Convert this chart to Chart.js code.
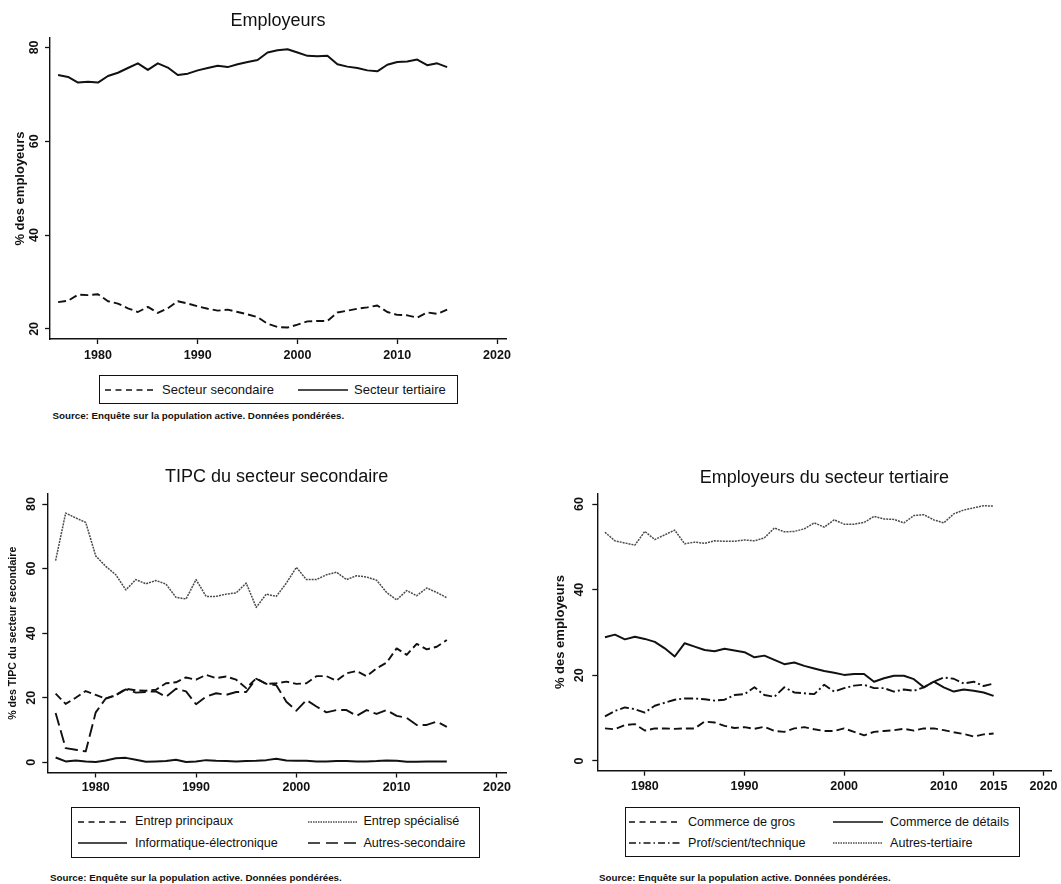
<!DOCTYPE html>
<html lang="fr">
<head>
<meta charset="utf-8">
<title>Employeurs</title>
<script src="https://cdn.jsdelivr.net/npm/chart.js@4.4.1/dist/chart.umd.min.js"></script>
<style>
  html, body { margin: 0; padding: 0; background: #fff; }
  body { width: 1061px; height: 884px; position: relative; overflow: hidden;
         font-family: "Liberation Sans", Arial, sans-serif; color: #111; }
  canvas { position: absolute; }
  .legende { position: absolute; border: 1.5px solid #111; box-sizing: border-box; }
  .echantillon { position: absolute; }
  .texte { position: absolute; white-space: nowrap; line-height: 1; }
  .source { position: absolute; white-space: nowrap; line-height: 1; font-weight: bold; font-size: 9.8px; }
</style>
</head>
<body>
<canvas id="graph1"></canvas>
<canvas id="graph2"></canvas>
<canvas id="graph3"></canvas>

<script>
// Années
const annees = [1976, 1977, 1978, 1979, 1980, 1981, 1982, 1983, 1984, 1985,
                1986, 1987, 1988, 1989, 1990, 1991, 1992, 1993, 1994, 1995,
                1996, 1997, 1998, 1999, 2000, 2001, 2002, 2003, 2004, 2005,
                2006, 2007, 2008, 2009, 2010, 2011, 2012, 2013, 2014, 2015];

// Employeurs
const secteurSecondaire = [25.7, 26.0, 27.3, 27.2, 27.4, 25.9, 25.4, 24.4, 23.6, 24.7,
                           23.4, 24.4, 25.9, 25.4, 24.8, 24.3, 23.9, 24.1, 23.6, 23.1,
                           22.5, 21.1, 20.4, 20.3, 20.9, 21.6, 21.7, 21.7, 23.5, 23.9,
                           24.3, 24.6, 25.0, 23.6, 23.0, 22.9, 22.4, 23.5, 23.2, 24.1];
const secteurTertiaire = [74.1, 73.7, 72.5, 72.7, 72.5, 73.9, 74.6, 75.6, 76.6, 75.2,
                          76.6, 75.7, 74.1, 74.4, 75.1, 75.6, 76.1, 75.8, 76.4, 76.9,
                          77.3, 78.9, 79.4, 79.6, 78.9, 78.2, 78.1, 78.2, 76.4, 75.9,
                          75.6, 75.1, 74.9, 76.3, 76.9, 77.0, 77.4, 76.2, 76.6, 75.8];

// TIPC du secteur secondaire
const entrepPrincipaux = [21.3, 18.1, 20.0, 22.1, 20.9, 19.7, 20.8, 22.8, 22.3, 22.2,
                          22.5, 24.5, 24.8, 26.3, 25.6, 27.1, 26.1, 26.6, 25.6, 23.0,
                          26.0, 24.3, 24.5, 25.0, 24.3, 24.5, 26.7, 26.7, 25.3, 27.6,
                          28.3, 26.7, 29.1, 30.9, 35.3, 33.3, 36.7, 35.0, 35.8, 37.9];
const entrepSpecialise = [62.5, 77.2, 75.7, 74.3, 63.9, 60.7, 58.1, 53.4, 56.6, 55.3,
                          56.3, 55.2, 51.1, 50.6, 56.6, 51.4, 51.4, 52.1, 52.5, 55.5,
                          48.0, 52.1, 51.4, 55.5, 60.4, 56.6, 56.6, 58.1, 58.9, 56.6,
                          57.8, 57.4, 56.4, 52.6, 50.3, 53.2, 51.6, 54.0, 52.6, 51.0];
const informatique = [1.5, 0.3, 0.6, 0.3, 0.1, 0.6, 1.3, 1.4, 0.8, 0.2,
                      0.3, 0.4, 0.8, 0.1, 0.3, 0.7, 0.5, 0.4, 0.3, 0.4,
                      0.5, 0.7, 1.1, 0.6, 0.5, 0.5, 0.3, 0.3, 0.4, 0.4,
                      0.3, 0.3, 0.4, 0.6, 0.5, 0.2, 0.2, 0.3, 0.3, 0.3];
const autresSecondaire = [15.3, 4.4, 3.9, 3.4, 15.5, 19.8, 20.8, 22.6, 21.6, 21.8,
                          22.0, 20.3, 22.8, 22.0, 18.0, 20.4, 21.4, 20.9, 21.8, 21.8,
                          25.9, 24.3, 23.9, 18.8, 16.0, 19.3, 17.3, 15.5, 16.2, 16.2,
                          14.4, 16.2, 15.0, 16.2, 14.4, 13.8, 11.6, 11.6, 12.6, 11.0];

// Employeurs du secteur tertiaire
const commerceGros = [7.6, 7.4, 8.4, 8.6, 7.1, 7.6, 7.6, 7.5, 7.6, 7.6,
                      9.2, 9.0, 8.2, 7.7, 7.9, 7.5, 8.0, 7.0, 6.8, 7.6,
                      7.9, 7.4, 7.0, 7.0, 7.6, 6.8, 6.0, 6.8, 7.0, 7.2,
                      7.5, 7.1, 7.6, 7.6, 7.2, 6.7, 6.3, 5.7, 6.2, 6.4];
const commerceDetails = [28.9, 29.5, 28.4, 29.0, 28.5, 27.8, 26.3, 24.4, 27.5, 26.7,
                         25.9, 25.6, 26.2, 25.8, 25.4, 24.2, 24.6, 23.6, 22.6, 23.0,
                         22.2, 21.6, 21.0, 20.6, 20.1, 20.3, 20.3, 18.5, 19.3, 19.9,
                         19.9, 19.1, 17.2, 18.5, 17.2, 16.2, 16.7, 16.4, 16.0, 15.2];
const profScientTech = [10.4, 11.7, 12.5, 12.1, 11.3, 12.9, 13.6, 14.3, 14.6, 14.6,
                        14.4, 14.1, 14.3, 15.4, 15.6, 17.2, 15.4, 15.0, 17.2, 16.0,
                        15.8, 15.6, 17.8, 16.2, 17.0, 17.6, 17.8, 17.0, 17.0, 16.2,
                        16.7, 16.4, 17.2, 18.5, 19.5, 19.2, 18.1, 18.5, 17.5, 18.1];
const autresTertiaire = [53.4, 51.4, 50.9, 50.4, 53.6, 51.7, 52.8, 53.9, 50.7, 51.1,
                         50.8, 51.4, 51.3, 51.3, 51.6, 51.4, 52.1, 54.4, 53.5, 53.6,
                         54.2, 55.6, 54.6, 56.3, 55.3, 55.3, 55.7, 57.1, 56.5, 56.4,
                         55.6, 57.3, 57.5, 56.3, 55.6, 57.7, 58.6, 59.1, 59.6, 59.5];

// Graduations
const xTicks12 = [1980, 1990, 2000, 2010, 2020];
const xTicks3 = [1980, 1990, 2000, 2010, 2015, 2020];
const yTicks1 = [20, 40, 60, 80];
const yTicks2 = [0, 20, 40, 60, 80];
const yTicks3 = [0, 20, 40, 60];

// Textes
const titres = ['Employeurs', 'TIPC du secteur secondaire', 'Employeurs du secteur tertiaire'];
const titresY = ['% des employeurs', '% des TIPC du secteur secondaire', '% des employeurs'];
const legende1 = ['Secteur secondaire', 'Secteur tertiaire'];
const legende2 = ['Entrep principaux', 'Entrep spécialisé', 'Informatique-électronique', 'Autres-secondaire'];
const legende3 = ['Commerce de gros', 'Commerce de détails', 'Prof/scient/technique', 'Autres-tertiaire'];
const texteSource = 'Source: Enquête sur la population active. Données pondérées.';

const police = '"Liberation Sans", Arial, sans-serif';
const tailleGrad = 12.5;

// Styles de trait (graphique / légende)
const traits = {
  tirets:      { color: '#111', width: 1.9, dash: [8, 4],        legDash: [6, 4.5] },
  plein:       { color: '#111', width: 2.0, dash: [],            legDash: [] },
  pointille:   { color: '#4a4a4a', width: 1.5, dash: [2, 1],     legDash: [1.5, 1] },
  longs:       { color: '#111', width: 1.9, dash: [13, 5],       legDash: [12, 6] },
  tiretPoint:  { color: '#111', width: 1.9, dash: [9, 3, 2, 3],  legDash: [7, 3, 1.5, 3] }
};

// Mise en page des panneaux (coordonnées de la page)
const panneaux = [
  { left: 0, top: 0, w: 530, h: 364, plotLeft: 50, plotRight: 506, plotBottom: 339,
    titleTop: 10.2, titleBottom: 6.2, xPad: 4.4, yLabelX: 34.5, yTitleSize: 13, yTitlePad: 12.2,
    xMin: 1975.19, xMax: 2020.9, yMin: 17.85, yMax: 82 },
  { left: 0, top: 450, w: 530, h: 348, plotLeft: 47.3, plotRight: 506, plotBottom: 322.5,
    titleTop: 16.2, titleBottom: 6.2, xPad: 2.7, yLabelX: 32, yTitleSize: 10.6, yTitlePad: 7.1,
    xMin: 1975.17, xMax: 2020.9, yMin: -3.13, yMax: 83.1 },
  { left: 540, top: 450, w: 521, h: 346, plotLeft: 57.3, plotRight: 513, plotBottom: 320.7,
    titleTop: 17.2, titleBottom: 4.5, xPad: 3.5, yLabelX: 40, yTitleSize: 13, yTitlePad: 12.2,
    xMin: 1975.23, xMax: 2020.8, yMin: -2.27, yMax: 62.5 }
];

const legendes = [
  { box: { x: 99, y: 375, w: 359, h: 29 }, size: 13,
    items: [{ sx: 105, sw: 49, tx: 162, y: 389.5 }, { sx: 297.5, sw: 50.5, tx: 354, y: 389.5 }] },
  { box: { x: 71, y: 807, w: 409, h: 51 }, size: 12.6,
    items: [{ sx: 78, sw: 49, tx: 135, y: 821.5 }, { sx: 307.6, sw: 49, tx: 363.4, y: 821.5 },
            { sx: 78, sw: 49, tx: 135, y: 843.3 }, { sx: 307.6, sw: 49, tx: 363.4, y: 843.3 }] },
  { box: { x: 625, y: 806.7, w: 395, h: 50 }, size: 12.6,
    items: [{ sx: 629, sw: 51, tx: 688, y: 821.7 }, { sx: 833, sw: 50, tx: 890, y: 821.7 },
            { sx: 629, sw: 51, tx: 688, y: 843.3 }, { sx: 833, sw: 50, tx: 890, y: 843.3 }] }
];

const sources = [{ x: 52.4, y: 416 }, { x: 50, y: 878 }, { x: 599, y: 878 }];

// Graduations verticales de l'axe Y (écrites de bas en haut, comme dans Stata)
const gradVerticales = {
  id: 'gradVerticales',
  afterDraw(chart, args, opts) {
    const scale = chart.scales.y;
    const ctx = chart.ctx;
    ctx.save();
    ctx.fillStyle = '#111';
    ctx.font = `bold ${tailleGrad}px ${police}`;
    ctx.textAlign = 'center';
    ctx.textBaseline = 'middle';
    scale.ticks.forEach(t => {
      const y = scale.getPixelForValue(t.value);
      ctx.save();
      ctx.translate(opts.x, y);
      ctx.rotate(-Math.PI / 2);
      ctx.fillText(String(t.value), 0, 0);
      ctx.restore();
    });
    ctx.restore();
  }
};

// Créer un graphique linéaire
function creerGraphique(id, p, series, xTicks, yTicks, titre, titreY) {
  const canvas = document.getElementById(id);
  canvas.width = p.w;
  canvas.height = p.h;
  canvas.style.left = p.left + 'px';
  canvas.style.top = p.top + 'px';

  return new Chart(canvas, {
    type: 'line',
    data: {
      datasets: series.map(s => ({
        label: s.label,
        data: annees.map((a, i) => ({ x: a, y: s.values[i] })),
        borderColor: s.style.color,
        borderWidth: s.style.width,
        borderDash: s.style.dash,
        borderJoinStyle: 'round',
        pointRadius: 0,
        tension: 0,
        fill: false
      }))
    },
    plugins: [gradVerticales],
    options: {
      responsive: false,
      animation: false,
      devicePixelRatio: 1,
      events: [],
      layout: { padding: { left: 0, top: 0, right: p.w - p.plotRight, bottom: 0 } },
      plugins: {
        legend: { display: false },
        tooltip: { enabled: false },
        gradVerticales: { x: p.yLabelX },
        title: {
          display: true,
          text: titre,
          fullSize: false,
          color: '#111',
          font: { family: police, size: 18, weight: 'normal', lineHeight: 1.2 },
          padding: { top: p.titleTop, bottom: p.titleBottom }
        }
      },
      scales: {
        x: {
          type: 'linear',
          min: p.xMin,
          max: p.xMax,
          afterBuildTicks: s => { s.ticks = xTicks.map(v => ({ value: v })); },
          afterFit: s => { s.height = p.h - p.plotBottom; },
          grid: { display: true, drawOnChartArea: false, drawTicks: true, tickLength: 5,
                  tickColor: '#111', tickWidth: 1.3 },
          border: { display: true, color: '#111', width: 1.4 },
          ticks: {
            padding: p.xPad, color: '#111', autoSkip: false, maxRotation: 0,
            font: { family: police, size: tailleGrad, weight: 'bold', lineHeight: 1.2 },
            callback: v => String(v)
          }
        },
        y: {
          min: p.yMin,
          max: p.yMax,
          afterBuildTicks: s => { s.ticks = yTicks.map(v => ({ value: v })); },
          afterFit: s => { s.width = p.plotLeft; },
          grid: { display: true, drawOnChartArea: false, drawTicks: true, tickLength: 5,
                  tickColor: '#111', tickWidth: 1.3 },
          border: { display: true, color: '#111', width: 1.4 },
          ticks: { display: false },
          title: {
            display: true, text: titreY, color: '#111',
            font: { family: police, size: p.yTitleSize, weight: 'bold', lineHeight: 1.2 },
            padding: { top: p.yTitlePad, bottom: 0 }
          }
        }
      }
    }
  });
}

// Créer une légende encadrée
function creerLegende(l, labels, styles) {
  const cadre = document.createElement('div');
  cadre.className = 'legende';
  cadre.style.left = l.box.x + 'px';
  cadre.style.top = l.box.y + 'px';
  cadre.style.width = l.box.w + 'px';
  cadre.style.height = l.box.h + 'px';
  document.body.appendChild(cadre);

  labels.forEach((label, i) => {
    const it = l.items[i];
    const st = styles[i];
    const svg = document.createElementNS('http://www.w3.org/2000/svg', 'svg');
    svg.setAttribute('class', 'echantillon');
    svg.setAttribute('width', it.sw);
    svg.setAttribute('height', 6);
    svg.style.left = it.sx + 'px';
    svg.style.top = (it.y - 3) + 'px';
    const ligne = document.createElementNS('http://www.w3.org/2000/svg', 'line');
    ligne.setAttribute('x1', 0);
    ligne.setAttribute('y1', 3);
    ligne.setAttribute('x2', it.sw);
    ligne.setAttribute('y2', 3);
    ligne.setAttribute('stroke', st.color);
    ligne.setAttribute('stroke-width', st === traits.pointille ? 1.3 : 1.5);
    if (st.legDash.length) ligne.setAttribute('stroke-dasharray', st.legDash.join(' '));
    svg.appendChild(ligne);
    document.body.appendChild(svg);

    const txt = document.createElement('div');
    txt.className = 'texte';
    txt.textContent = label;
    txt.style.fontSize = l.size + 'px';
    txt.style.left = it.tx + 'px';
    txt.style.top = (it.y - 0.49 * l.size) + 'px';
    document.body.appendChild(txt);
  });
}

// Note de source
function creerSource(s) {
  const d = document.createElement('div');
  d.className = 'source';
  d.textContent = texteSource;
  d.style.left = s.x + 'px';
  d.style.top = (s.y - 0.49 * 9.8) + 'px';
  document.body.appendChild(d);
}

creerGraphique('graph1', panneaux[0], [
  { label: legende1[0], values: secteurSecondaire, style: traits.tirets },
  { label: legende1[1], values: secteurTertiaire, style: traits.plein }
], xTicks12, yTicks1, titres[0], titresY[0]);

creerGraphique('graph2', panneaux[1], [
  { label: legende2[0], values: entrepPrincipaux, style: traits.tirets },
  { label: legende2[1], values: entrepSpecialise, style: traits.pointille },
  { label: legende2[2], values: informatique, style: traits.plein },
  { label: legende2[3], values: autresSecondaire, style: traits.longs }
], xTicks12, yTicks2, titres[1], titresY[1]);

creerGraphique('graph3', panneaux[2], [
  { label: legende3[0], values: commerceGros, style: traits.tirets },
  { label: legende3[1], values: commerceDetails, style: traits.plein },
  { label: legende3[2], values: profScientTech, style: traits.tiretPoint },
  { label: legende3[3], values: autresTertiaire, style: traits.pointille }
], xTicks3, yTicks3, titres[2], titresY[2]);

creerLegende(legendes[0], legende1, [traits.tirets, traits.plein]);
creerLegende(legendes[1], legende2, [traits.tirets, traits.pointille, traits.plein, traits.longs]);
creerLegende(legendes[2], legende3, [traits.tirets, traits.plein, traits.tiretPoint, traits.pointille]);

sources.forEach(creerSource);
</script>
</body>
</html>
